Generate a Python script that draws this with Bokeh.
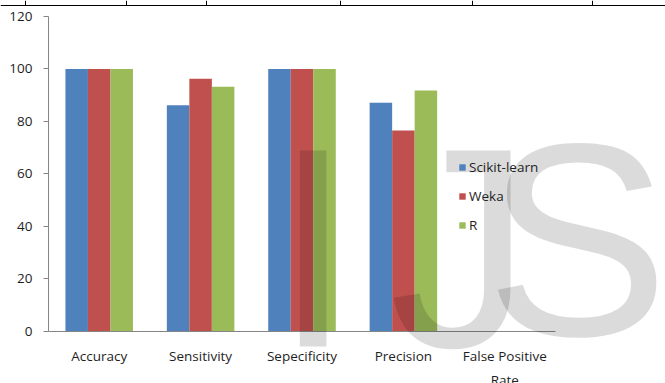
from bokeh.plotting import figure
from bokeh.models import (ColumnDataSource, Range1d, FixedTicker, LinearAxis,
                          Legend, LegendItem, Label, BoxAnnotation)
from bokeh.transform import dodge
from bokeh.embed import file_html
from bokeh.resources import INLINE

# ---- data -------------------------------------------------------------
metrics = ["Accuracy", "Sensitivity", "Sepecificity", "Precision",
           "False Positive\nRate"]
scikit_learn = [100, 86.2, 100, 87.1, 0]
weka = [100, 96.3, 100, 76.6, 0]
r_values = [100, 93.2, 100, 91.8, 0]
series_names = ["Scikit-learn", "Weka", "R"]
y_ticks = [0, 20, 40, 60, 80, 100, 120]

# ---- styling ----------------------------------------------------------
colors = ["#4F81BD", "#C0504D", "#9BBB59"]
grid_gray = "#868686"
font = "Open Sans"
text_color = "#1e1e1e"
bar_w = 0.222

W, H = 665, 383
# the canvas is one frame; the plotting area sits inside it
x_lo, x_hi = -0.4734, 6.0848
y_lo, y_hi = -19.81, 126.095
sx = (x_hi - x_lo) / W
sy = (y_hi - y_lo) / H


def px_x(px):
    return x_lo + px * sx


def px_y(px):
    return y_hi - px * sy


centers = [i + 0.5 for i in range(len(metrics))]
source = ColumnDataSource(dict(x=centers, scikit=scikit_learn, weka=weka, r=r_values))

p = figure(title=None, frame_width=W, frame_height=H, min_border=0,
           x_range=Range1d(x_lo, x_hi), y_range=Range1d(y_lo, y_hi),
           x_axis_type=None, y_axis_type=None,
           output_backend="svg", toolbar_location=None,
           outline_line_color=None, background_fill_color="white")

cols = ["scikit", "weka", "r"]
offsets = [-bar_w, 0, bar_w]
renderers = []
for col, off, c in zip(cols, offsets, colors):
    rr = p.vbar(x=dodge("x", off), top=col, width=bar_w,
                source=source, fill_color=c, line_color=None)
    renderers.append(rr)

# axes pinned at the chart origin
xaxis = LinearAxis(fixed_location=0, bounds=(0, len(metrics)),
                   ticker=FixedTicker(ticks=centers),
                   major_label_overrides={c: m for c, m in zip(centers, metrics)})
yaxis = LinearAxis(fixed_location=0, bounds=(0, 120),
                   ticker=FixedTicker(ticks=y_ticks))
p.add_layout(xaxis, "below")
p.add_layout(yaxis, "left")

xaxis.major_tick_in = 0
xaxis.major_tick_out = 0
xaxis.minor_tick_line_color = None
xaxis.major_label_standoff = 16
xaxis.major_label_text_line_height = 1.3
yaxis.minor_tick_line_color = None
yaxis.major_tick_in = 0
yaxis.major_tick_out = 5
yaxis.major_label_standoff = 11
for ax in (xaxis, yaxis):
    ax.axis_line_color = grid_gray
    ax.major_tick_line_color = grid_gray
    ax.major_label_text_font = font
    ax.major_label_text_font_size = "13.5px"
    ax.major_label_text_color = text_color

p.xgrid.visible = False
p.ygrid.ticker = FixedTicker(ticks=y_ticks)
p.ygrid.grid_line_color = grid_gray
p.ygrid.grid_line_width = 1
p.ygrid.cross_bounds = (0, len(metrics))

# white panel behind the legend hides the grid lines there
legend_left, legend_top, legend_right, legend_bottom = 458, 150, 551, 234
p.add_layout(BoxAnnotation(left=px_x(legend_left), right=px_x(legend_right),
                           top=px_y(legend_top), bottom=px_y(legend_bottom),
                           fill_color="white", fill_alpha=1.0, line_color=None,
                           level="underlay"))

legend = Legend(items=[LegendItem(label=n, renderers=[rr])
                       for n, rr in zip(series_names, renderers)],
                location=(legend_left, H - legend_bottom), orientation="vertical",
                glyph_width=8, glyph_height=8, label_height=18, label_width=74,
                spacing=11, padding=4, margin=0, label_standoff=3,
                label_text_font=font, label_text_font_size="13.5px",
                label_text_color=text_color,
                background_fill_alpha=0.0, border_line_color=None)
p.add_layout(legend)

# document table border running along the top of the page
border_px = [25, 126, 206, 340, 472, 592]
border_x = [px_x(b) for b in border_px]
rule_y = px_y(5)
p.segment(x0=[x_lo], y0=[rule_y], x1=[x_hi], y1=[rule_y], line_color="black", line_width=1)
p.segment(x0=border_x, y0=[rule_y] * len(border_x), x1=border_x,
          y1=[y_hi] * len(border_x), line_color="black", line_width=1)

# large translucent "IJS" mark drawn over everything
wm = dict(text_font="Liberation Sans", text_color="black", text_alpha=0.14,
          text_align="left", text_baseline="middle", level="overlay")
p.add_layout(Label(x=2.219, y=32.0, text="I", text_font_size="285px", **wm))
p.add_layout(Label(x=3.36, y=32.0, text="J", text_font_size="285px", **wm))
p.add_layout(Label(x=4.31, y=35.0, text="S", text_font_size="275px", **wm))

open("out.html", "w").write(file_html(p, INLINE))
